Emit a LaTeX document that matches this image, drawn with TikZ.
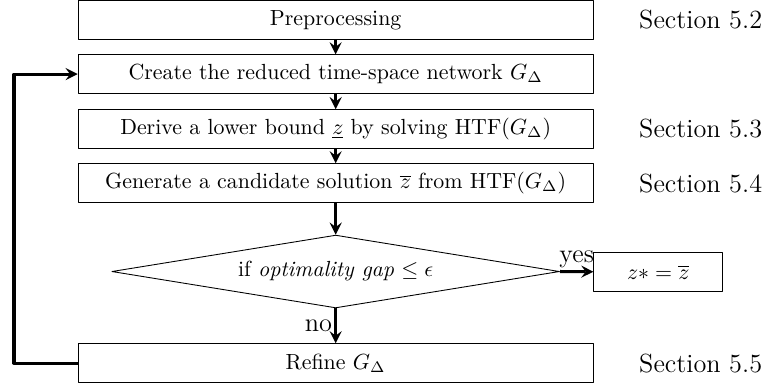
\documentclass[tikz,border=0pt]{standalone}
\usetikzlibrary{shapes.geometric}
\begin{document}
\begin{tikzpicture}[line join = round,>=stealth,
  stepbox/.style={draw,thin,minimum width=8.27cm,minimum height=0.62cm,inner sep=0pt},
  flow/.style={->,line width=1.4pt},
  sec/.style={anchor=west,font=\large}]
\useasboundingbox (0,0) rectangle (12.3,-6.21);

% main column
\node[stepbox] (pre) at (5.39,-0.32) {Preprocessing};
\node[stepbox] (net) at (5.39,-1.19) {Create the reduced time-space network $G_\Delta$};
\node[stepbox] (low) at (5.39,-2.07) {Derive a lower bound $\underline{z}$ by solving HTF$(G_\Delta)$};
\node[stepbox] (cand) at (5.39,-2.94) {Generate a candidate solution $\overline{z}$ from HTF$(G_\Delta)$};
\node[draw,thin,diamond,shape aspect=6.1,inner sep=1pt,minimum width=7.19cm,minimum height=1.17cm] (gap) at (5.39,-4.36) {if \textit{optimality gap} $\leq \epsilon$};
\node[stepbox] (ref) at (5.39,-5.83) {Refine $G_\Delta$};
\node[draw,thin,minimum width=2.07cm,minimum height=0.63cm,inner sep=0pt] (opt) at (10.57,-4.37) {$z* = \overline{z}$};

% section references
\node[sec] (s52) at (10.14,-0.32) {Section 5.2};
\node[sec] (s53) at (10.14,-2.07) {Section 5.3};
\node[sec] (s54) at (10.14,-2.94) {Section 5.4};
\node[sec] (s55) at (10.14,-5.83) {Section 5.5};

\draw[flow] (pre) -- (net);
\draw[flow] (net) -- (low);
\draw[flow] (low) -- (cand);
\draw[flow] (cand) -- (gap.north);
\draw[flow] (gap.east) -- node[above,font=\large,inner sep=1pt] (yes) {yes} (opt);
\draw[flow] (gap.south) -- node[left,font=\large,inner sep=1pt] (no) {no} (ref);

% loop back
\coordinate (back) at (0.225,-5.83);
\draw[flow] (ref.west) -- (back) |- (net.west);
\end{tikzpicture}
\end{document}
